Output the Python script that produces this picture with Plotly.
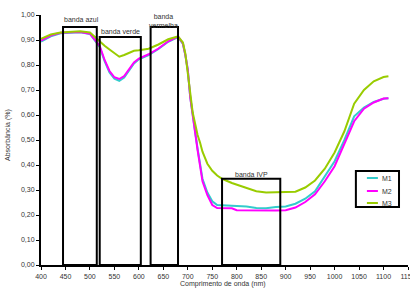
import plotly.graph_objects as go

# Wavelengths (nm)
wl = [400, 420, 440, 460, 480, 500, 510, 520, 530, 540, 550, 560, 570, 580, 590, 600,
      620, 640, 660, 680, 690, 695, 700, 705, 710, 715, 720, 725, 730, 740, 750, 760,
      770, 790, 800, 820, 840, 860, 880, 900, 920, 940, 960, 980, 1000, 1020, 1040,
      1060, 1080, 1100, 1110]

m1 = [0.894, 0.915, 0.927, 0.930, 0.931, 0.924, 0.898, 0.872, 0.815, 0.770, 0.745, 0.737,
      0.750, 0.776, 0.806, 0.823, 0.840, 0.864, 0.893, 0.912, 0.884, 0.840, 0.780, 0.670,
      0.595, 0.535, 0.465, 0.405, 0.345, 0.290, 0.255, 0.240, 0.238, 0.237, 0.236, 0.234,
      0.228, 0.227, 0.232, 0.234, 0.245, 0.265, 0.295, 0.355, 0.415, 0.500, 0.595, 0.630,
      0.652, 0.665, 0.667]

m2 = [0.898, 0.918, 0.929, 0.931, 0.932, 0.925, 0.900, 0.876, 0.820, 0.776, 0.751, 0.744,
      0.756, 0.781, 0.810, 0.826, 0.843, 0.866, 0.895, 0.914, 0.886, 0.840, 0.780, 0.670,
      0.590, 0.530, 0.460, 0.400, 0.335, 0.280, 0.240, 0.228, 0.227, 0.227, 0.219, 0.218,
      0.218, 0.218, 0.218, 0.219, 0.230, 0.252, 0.283, 0.335, 0.395, 0.485, 0.575, 0.625,
      0.650, 0.666, 0.667]

m3 = [0.905, 0.922, 0.930, 0.934, 0.935, 0.930, 0.912, 0.892, 0.877, 0.862, 0.847, 0.833,
      0.840, 0.850, 0.857, 0.859, 0.865, 0.882, 0.903, 0.914, 0.890, 0.845, 0.765, 0.685,
      0.610, 0.565, 0.520, 0.490, 0.453, 0.405, 0.377, 0.358, 0.345, 0.328, 0.322, 0.310,
      0.295, 0.290, 0.290, 0.290, 0.293, 0.310, 0.338, 0.385, 0.450, 0.535, 0.645, 0.700,
      0.735, 0.752, 0.755]

series_names = ["M1", "M2", "M3"]
series_values = [m1, m2, m3]
series_colors = ["#33CCCC", "#FF00FF", "#99CC00"]

# Spectral bands: name, start, end, top
band_labels = ["banda azul", "banda verde", "banda<br>vermelha", "banda IVP"]
band_start = [445, 520, 624, 770]
band_end = [514, 604, 680, 889]
band_top = [0.952, 0.912, 0.952, 0.345]
band_label_x = [482, 563, 650, 831]
band_label_y = [0.982, 0.935, 0.978, 0.363]

x_ticks = list(range(400, 1151, 50))
y_ticks = [round(i * 0.1, 1) for i in range(11)]

font_family = "Liberation Sans, Arial, sans-serif"
text_color = "#333"

fig = go.Figure()
for name, vals, col in zip(series_names, series_values, series_colors):
    fig.add_trace(go.Scatter(x=wl, y=vals, mode="lines", name=name,
                             line=dict(color=col, width=2), showlegend=False,
                             hoverinfo="skip"))

shapes = []
for x0, x1, top in zip(band_start, band_end, band_top):
    shapes.append(dict(type="rect", xref="x", yref="y", x0=x0, x1=x1, y0=0, y1=top,
                       line=dict(color="black", width=2), layer="above"))

annotations = []
for lab, lx, ly in zip(band_labels, band_label_x, band_label_y):
    annotations.append(dict(x=lx, y=ly, xref="x", yref="y", text=lab, showarrow=False,
                            font=dict(size=7, color=text_color, family=font_family),
                            xanchor="center", yanchor="middle"))

# Manual legend (box + short lines + labels)
shapes.append(dict(type="rect", xref="paper", yref="paper", x0=0.858, x1=0.9755,
                   y0=0.232, y1=0.376, line=dict(color="black", width=2),
                   fillcolor="white", layer="above"))
leg_y = [0.348, 0.296, 0.248]
for name, col, ly in zip(series_names, series_colors, leg_y):
    shapes.append(dict(type="line", xref="paper", yref="paper", x0=0.888, x1=0.918,
                       y0=ly, y1=ly, line=dict(color=col, width=2), layer="above"))
    annotations.append(dict(x=0.925, y=ly, xref="paper", yref="paper", text=name,
                            showarrow=False, xanchor="left", yanchor="middle",
                            font=dict(size=7, color=text_color, family=font_family)))

annotations.append(dict(x=-0.09, y=0.52, xref="paper", yref="paper",
                        text="Absorbância (%)", textangle=-90, showarrow=False,
                        xanchor="center", yanchor="middle",
                        font=dict(size=7, color=text_color, family=font_family)))
annotations.append(dict(x=0.496, y=-0.076, xref="paper", yref="paper",
                        text="Comprimento de onda (nm)", showarrow=False,
                        xanchor="center", yanchor="middle",
                        font=dict(size=7, color=text_color, family=font_family)))

fig.update_layout(
    width=410, height=289,
    margin=dict(l=41, r=2, t=15, b=24, autoexpand=False),
    paper_bgcolor="white", plot_bgcolor="white",
    separators=",.",
    shapes=shapes, annotations=annotations,
    font=dict(family=font_family, size=7, color=text_color),
    xaxis=dict(range=[400, 1150], tickvals=x_ticks, showgrid=False, zeroline=False,
               showline=True, linecolor="black", linewidth=2, ticks="outside",
               ticklen=3, tickcolor="black", tickwidth=1, ticklabelstandoff=1,
               ticklabeloverflow="allow", automargin=False,
               tickfont=dict(size=7, color=text_color, family=font_family)),
    yaxis=dict(range=[0, 1], tickvals=y_ticks, tickformat=".2f", showgrid=False,
               zeroline=False, showline=True, linecolor="black", linewidth=2,
               ticks="outside", ticklen=3, tickcolor="black", tickwidth=1,
               automargin=False,
               tickfont=dict(size=7, color=text_color, family=font_family)),
    showlegend=False,
)

fig.write_html("out.html", config={"displayModeBar": False},
               post_script="document.body.style.margin='0px';")
